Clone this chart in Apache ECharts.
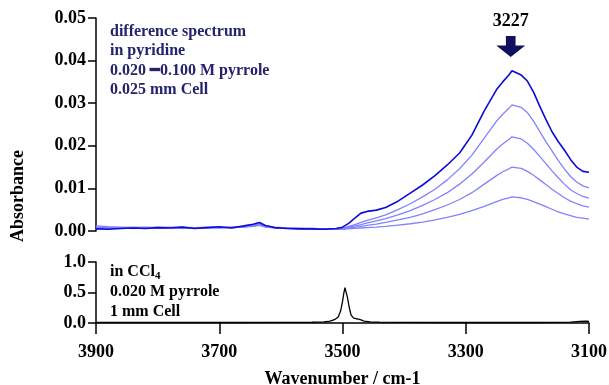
<!DOCTYPE html>
<html>
<head>
<meta charset="utf-8">
<script src="https://cdn.jsdelivr.net/npm/echarts@6/dist/echarts.min.js"></script>
<style>
  html, body { margin: 0; padding: 0; background: #fff; }
  #chart { width: 609px; height: 385px; }
</style>
</head>
<body>
<div id="chart"></div>
<script>
// IR spectra of pyrrole: difference spectra in pyridine (top) and CCl4 reference (bottom)
const wavenumbers = [3900, 3880, 3860, 3840, 3820, 3800, 3780, 3760, 3740, 3720, 3700, 3680, 3660, 3645, 3635, 3625, 3610, 3590, 3570, 3550, 3530, 3510,
    3500, 3490, 3480, 3470, 3460, 3445, 3430, 3410, 3390, 3370, 3350, 3330, 3310, 3290, 3270, 3250, 3240, 3230, 3225, 3210, 3200, 3190, 3180, 3170, 3160, 3150, 3140, 3130, 3120, 3110, 3100];

const pyr100 = [.0005, .0004, .0006, .0007, .0006, .0008, .0007, .0009, .0006, .0008, .0010, .0007, .0012, .0016, .0020, .0013, .0008, .0006, .0005, .0005, .0004, .0006,
    .0009, .0018, .0030, .0042, .0046, .0049, .0055, .0070, .0089, .0108, .0130, .0155, .0183, .0225, .0282, .0332, .0350, .0366, .0376, .0366, .0352, .0326, .0293, .0262, .0233, .0210, .0190, .0168, .0150, .0140, .0138];
const pyr080 = [.0007, .0006, .0007, .0008, .0007, .0009, .0008, .0007, .0008, .0009, .0008, .0009, .0011, .0014, .0017, .0012, .0009, .0007, .0006, .0006, .0005, .0006,
    .0007, .0011, .0015, .0020, .0025, .0031, .0038, .0050, .0064, .0080, .0098, .0120, .0146, .0178, .0218, .0258, .0274, .0288, .0296, .0290, .0278, .0258, .0234, .0210, .0188, .0166, .0146, .0128, .0115, .0106, .0101];
const pyr060 = [.0008, .0007, .0008, .0007, .0008, .0008, .0009, .0008, .0007, .0008, .0009, .0008, .0010, .0013, .0015, .0011, .0008, .0007, .0006, .0006, .0005, .0005,
    .0006, .0009, .0012, .0015, .0019, .0024, .0029, .0038, .0048, .0060, .0074, .0090, .0110, .0134, .0162, .0192, .0204, .0215, .0221, .0216, .0206, .0192, .0175, .0158, .0141, .0125, .0110, .0097, .0088, .0081, .0077];
const pyr040 = [.0009, .0008, .0008, .0009, .0008, .0007, .0008, .0009, .0008, .0007, .0008, .0009, .0010, .0012, .0014, .0010, .0008, .0007, .0006, .0005, .0005, .0005,
    .0005, .0007, .0009, .0011, .0013, .0016, .0020, .0026, .0032, .0040, .0050, .0061, .0074, .0090, .0110, .0130, .0139, .0146, .0150, .0147, .0140, .0131, .0120, .0109, .0098, .0088, .0078, .0070, .0064, .0059, .0056];
const pyr020 = [.0012, .0010, .0009, .0008, .0009, .0008, .0008, .0007, .0008, .0008, .0007, .0008, .0009, .0011, .0013, .0009, .0007, .0006, .0005, .0005, .0004, .0004,
    .0004, .0005, .0006, .0007, .0008, .0009, .0011, .0014, .0017, .0021, .0026, .0032, .0039, .0048, .0058, .0069, .0074, .0078, .0080, .0078, .0074, .0069, .0063, .0057, .0051, .0045, .0040, .0036, .0032, .0030, .0028];

const cclWavenumbers = [3900, 3800, 3700, 3600, 3550, 3530, 3520, 3512, 3507, 3503, 3500, 3498, 3496, 3494, 3492, 3489, 3486, 3482, 3478, 3474, 3470, 3465, 3455, 3440, 3400, 3300, 3200, 3150, 3130, 3115, 3105, 3100];
const cclAbs = [.008, .008, .008, .010, .012, .020, .030, .060, .100, .200, .350, .480, .580, .550, .420, .250, .130, .080, .070, .065, .050, .030, .018, .013, .010, .008, .008, .010, .015, .025, .030, .028];

const xTicks = [3900, 3700, 3500, 3300, 3100];
const peakLabel = 3227;

const pairs = (xs, ys) => xs.map((x, i) => [x, ys[i]]);

const serif = '"Liberation Serif", "Times New Roman", serif';
const navy = '#23236e';

const mychart = echarts.init(document.getElementById('chart'), undefined, { renderer: 'canvas' });

const yLabel = {
    fontFamily: serif,
    fontWeight: 'bold',
    fontSize: 18,
    color: '#000',
    margin: 10,
};

const lightLine = (name, vals) => ({
    name: name,
    type: 'line',
    xAxisIndex: 0,
    yAxisIndex: 0,
    showSymbol: false,
    symbol: 'none',
    data: pairs(wavenumbers, vals),
    lineStyle: { color: '#8282ff', width: 1.3 },
    z: 2,
});

const option = {
    animation: false,
    backgroundColor: '#fff',
    grid: [
        { left: 96, right: 20, top: 18, height: 213, outerBoundsMode: 'none' },
        { left: 96, right: 20, top: 262, height: 61, outerBoundsMode: 'none' },
    ],
    xAxis: [
        {
            gridIndex: 0,
            type: 'value',
            min: 3100,
            max: 3900,
            inverse: true,
            show: false,
        },
        {
            gridIndex: 1,
            type: 'value',
            min: 3100,
            max: 3900,
            inverse: true,
            axisLine: { lineStyle: { color: '#000', width: 1.5 } },
            axisTick: { show: true, inside: false, length: 11, lineStyle: { color: '#000', width: 1.5 }, customValues: xTicks },
            axisLabel: { ...yLabel, margin: 20, customValues: xTicks, formatter: v => String(v) },
            splitLine: { show: false },
            name: 'Wavenumber / cm-1',
            nameLocation: 'middle',
            nameGap: 47,
            nameTextStyle: { fontFamily: serif, fontWeight: 'bold', fontSize: 18, color: '#000' },
        },
    ],
    yAxis: [
        {
            gridIndex: 0,
            type: 'value',
            min: 0,
            max: 0.05,
            interval: 0.01,
            axisLine: { show: true, lineStyle: { color: '#000', width: 1.5 } },
            axisTick: { show: true, length: 8, lineStyle: { color: '#000', width: 1.5 } },
            axisLabel: { ...yLabel, formatter: v => v.toFixed(2) },
            splitLine: { show: false },
        },
        {
            gridIndex: 1,
            type: 'value',
            min: 0,
            max: 1,
            interval: 0.5,
            axisLine: { show: true, lineStyle: { color: '#000', width: 1.5 } },
            axisTick: { show: true, length: 8, lineStyle: { color: '#000', width: 1.5 } },
            axisLabel: { ...yLabel, formatter: v => v.toFixed(1) },
            splitLine: { show: false },
        },
    ],
    series: [
        lightLine('0.020 M', pyr020),
        lightLine('0.040 M', pyr040),
        lightLine('0.060 M', pyr060),
        lightLine('0.080 M', pyr080),
        {
            name: '0.100 M',
            type: 'line',
            xAxisIndex: 0,
            yAxisIndex: 0,
            showSymbol: false,
            symbol: 'none',
            data: pairs(wavenumbers, pyr100),
            lineStyle: { color: '#0b0bd6', width: 1.6 },
            z: 3,
            markPoint: {
                silent: true,
                data: [{ coord: [peakLabel, 0.0433] }],
                symbol: 'path://M10,0 L20,0 L20,10 L30,10 L15,22 L0,10 L10,10 Z',
                symbolSize: [29, 21],
                itemStyle: { color: '#10105e' },
                label: {
                    show: true,
                    position: 'top',
                    distance: 6,
                    formatter: String(peakLabel),
                    fontFamily: serif,
                    fontWeight: 'bold',
                    fontSize: 18,
                    color: '#000',
                },
            },
        },
        {
            name: 'CCl4',
            type: 'line',
            xAxisIndex: 1,
            yAxisIndex: 1,
            showSymbol: false,
            symbol: 'none',
            data: pairs(cclWavenumbers, cclAbs),
            lineStyle: { color: '#000', width: 1.3 },
        },
    ],
    graphic: [
        {
            type: 'text',
            x: 18,
            y: 196,
            rotation: Math.PI / 2,
            style: {
                text: 'Absorbance',
                fontFamily: serif,
                fontWeight: 'bold',
                fontSize: 18,
                fill: '#000',
                align: 'center',
                verticalAlign: 'middle',
            },
        },
        {
            type: 'text',
            x: 110,
            y: 22,
            style: {
                text: 'difference spectrum\nin pyridine\n0.020 \u25010.100 M pyrrole\n0.025 mm Cell',
                fontFamily: serif,
                fontWeight: 'bold',
                fontSize: 16,
                lineHeight: 19.5,
                fill: navy,
            },
        },
        {
            type: 'text',
            x: 110,
            y: 262,
            style: {
                text: '{a|in CCl}{s|4}\n{a|0.020 M pyrrole}\n{a|1 mm Cell}',
                rich: {
                    a: { fontFamily: serif, fontWeight: 'bold', fontSize: 16, lineHeight: 20, fill: '#000' },
                    s: { fontFamily: serif, fontWeight: 'bold', fontSize: 11, lineHeight: 20, padding: [8, 0, 0, 0], fill: '#000' },
                },
            },
        },
    ],
};

mychart.setOption(option, true);
</script>
</body>
</html>
